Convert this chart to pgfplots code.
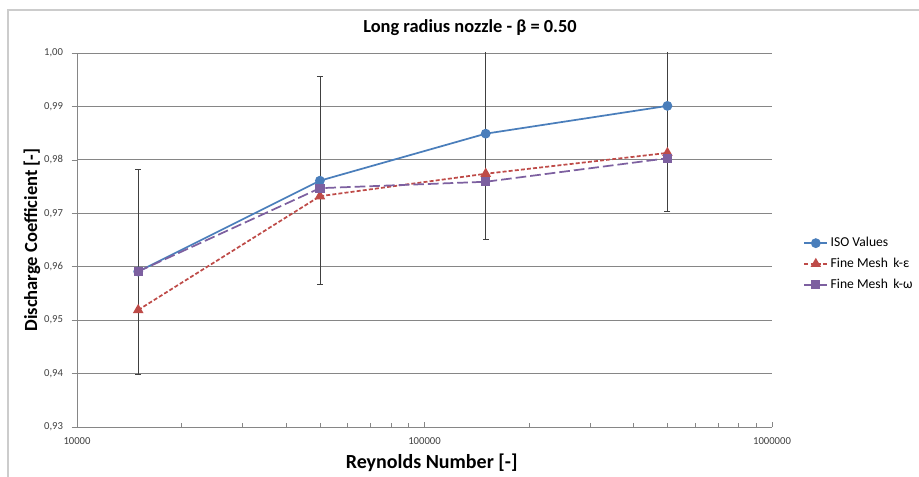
\documentclass[border=0pt]{standalone}
\usepackage{fontspec}
\setmainfont{Carlito}
\usepackage{pgfplots}
\pgfplotsset{compat=1.18}
\definecolor{isoblue}{HTML}{4A7EBB}
\definecolor{kered}{HTML}{BE4B48}
\definecolor{kwpurple}{HTML}{7D60A0}
\definecolor{gridgray}{HTML}{868686}
\definecolor{ticktext}{HTML}{404040}
\begin{document}
\begin{tikzpicture}
\useasboundingbox (-57.75pt,-37.5pt) rectangle (631.5pt,320.25pt);
\draw[gray!40, line width=1pt] (-51.75pt,-45pt) -- (-51.75pt,312.75pt) -- (650pt,312.75pt);
\begin{axis}[
  width=521.25pt, height=280.5pt, scale only axis,
  xmode=log, xmin=10000, xmax=1000000, ymin=0.93, ymax=1.00,
  axis lines=left, axis line style={-, draw=gridgray, line width=0.6pt},
  ytick={0.93,0.94,0.95,0.96,0.97,0.98,0.99,1.00},
  ymajorgrids, grid style={gridgray, line width=0.6pt},
  xtick={10000,100000,1000000}, xticklabels={10000,100000,1000000},
  minor xtick={20000,30000,40000,50000,60000,70000,80000,90000,200000,300000,400000,500000,600000,700000,800000,900000},
  x tick style={draw=gridgray, line width=0.5pt}, xtick align=inside,
  ytick align=outside, y tick style={draw=gridgray, line width=0.5pt},
  major tick length=4pt, minor tick length=3pt,
  /pgf/number format/assume math mode=true,
  yticklabel style={xshift=-3pt, /pgf/number format/use comma, /pgf/number format/fixed, /pgf/number format/fixed zerofill, /pgf/number format/precision=2},
  xticklabel style={yshift=-4.5pt},
  ticklabel style={font=\fontsize{8}{9}\selectfont, text=ticktext},
  legend style={at={(1.045,0.436)}, anchor=west, draw=none, fill=none,
    font=\fontsize{10.2}{12}\selectfont, row sep=3pt, inner sep=0pt},
  legend cell align=left,
]
\addplot[isoblue, line width=1.3pt, mark=*, mark size=3pt, mark options={solid, fill=isoblue},
  error bars/.cd, y dir=both, y explicit,
  error bar style={black!75, line width=0.6pt, solid},
  error mark options={rotate=90, mark size=2.2pt, black!75, line width=0.6pt}]
  coordinates {
  (15000,0.9591) +- (0,0.0192)
  (50000,0.9761) +- (0,0.0195)
  (150000,0.9849) +- (0,0.0197)
  (500000,0.9901) +- (0,0.0198)
  };
\addlegendentry{ISO Values}
\addplot[kered, line width=1.3pt, dash pattern=on 3pt off 1.6pt, mark=triangle*, mark size=3.3pt, mark options={solid, fill=kered}]
  coordinates {
  (15000,0.9519)
  (50000,0.9732)
  (150000,0.9774)
  (500000,0.9813)
  };
\addlegendentry{Fine Mesh\, k-ε}
\addplot[kwpurple, line width=1.3pt, dash pattern=on 8pt off 3pt, mark=square*, mark size=2.8pt, mark options={solid, fill=kwpurple}]
  coordinates {
  (15000,0.9591)
  (50000,0.9747)
  (150000,0.9759)
  (500000,0.9803)
  };
\addlegendentry{Fine Mesh\, k-ω}
\end{axis}
\node[font=\bfseries\fontsize{13.8}{16}\selectfont] at (294.75pt,299.25pt) {Long radius nozzle - β = 0.50};
\node[font=\bfseries\fontsize{15}{17}\selectfont] at (266pt,-27pt) {Reynolds Number [-]};
\node[font=\bfseries\fontsize{13.9}{16}\selectfont, rotate=90] at (-33.75pt,140.25pt) {Discharge Coefficient [-]};
\end{tikzpicture}
\end{document}
